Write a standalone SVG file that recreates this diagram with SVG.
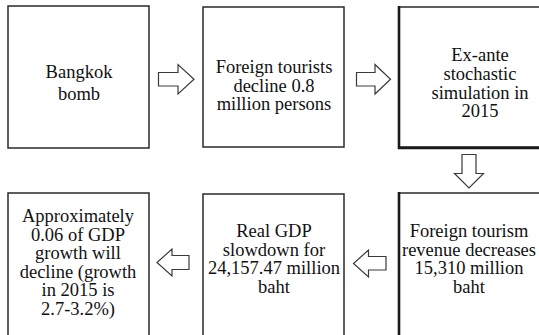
<svg xmlns="http://www.w3.org/2000/svg" width="539" height="335" viewBox="0 0 539 335">
<style>
.box{fill:#fff;stroke:#2a2a2a;stroke-width:1.5}
.edge{stroke:#1a1a1a;stroke-width:2.6;fill:none}
.arr{fill:#fff;stroke:#3a3a3a;stroke-width:1.2;stroke-linejoin:miter}
.t{font-family:'Liberation Serif','DejaVu Serif',serif;font-size:18.5px;fill:#111;text-anchor:middle}
</style>
<rect width="539" height="335" fill="#fff"/>
<g id="connectors">
<path class="arr" d="M158.5,72.5 H178 V64.5 L194,79.2 L178,94 V86 H158.5 Z"/>
<path class="arr" d="M356.5,72.5 H375 V64.5 L390.5,79.2 L375,94 V86 H356.5 Z"/>
<path class="arr" d="M462,154.5 H476 V173.5 H483.5 L469,188 L454.5,173.5 H462 Z"/>
<path class="arr" d="M386,256.5 H368.5 V250 L353.5,263.5 L368.5,277 V270 H386 Z"/>
<path class="arr" d="M189,255.5 H172 V249 L157,262.5 L172,276 V269.5 H189 Z"/>
</g>
<g id="n1">
<rect class="box" x="8" y="6" width="141" height="142"/>
<text class="t" font-family="Liberation Serif, serif" x="79" y="78">Bangkok</text>
<text class="t" font-family="Liberation Serif, serif" x="79" y="99.5">bomb</text>
</g>
<g id="n2">
<rect class="box" x="203" y="7" width="141" height="140"/>
<text class="t" x="274" y="73">Foreign tourists</text>
<text class="t" x="274" y="91.5">decline 0.8</text>
<text class="t" x="274" y="110">million persons</text>
</g>
<g id="n3">
<rect class="box" x="399" y="7" width="160" height="140"/>
<path class="edge" d="M399,6 V148 H545"/>
<text class="t" x="480" y="61">Ex-ante</text>
<text class="t" x="480" y="80">stochastic</text>
<text class="t" x="480" y="98.5">simulation in</text>
<text class="t" x="480" y="117">2015</text>
</g>
<g id="n4">
<rect class="box" x="8" y="193" width="141" height="160"/>
<text class="t" x="78" y="222">Approximately</text>
<text class="t" x="78" y="240.5">0.06 of GDP</text>
<text class="t" x="78" y="259">growth will</text>
<text class="t" x="78" y="277.5">decline (growth</text>
<text class="t" x="78" y="296">in 2015 is</text>
<text class="t" x="78" y="314.5">2.7-3.2%)</text>
</g>
<g id="n5">
<rect class="box" x="203" y="194" width="141" height="160"/>
<text class="t" x="274" y="237">Real GDP</text>
<text class="t" x="274" y="255.5">slowdown for</text>
<text class="t" x="274" y="274">24,157.47 million</text>
<text class="t" x="274" y="292.5">baht</text>
</g>
<g id="n6">
<rect class="box" x="399" y="193" width="160" height="160"/>
<path class="edge" d="M399,192 V340"/>
<text class="t" x="469" y="237">Foreign tourism</text>
<text class="t" x="469" y="255.5">revenue decreases</text>
<text class="t" x="469" y="274">15,310 million</text>
<text class="t" x="469" y="292.5">baht</text>
</g>
</svg>
